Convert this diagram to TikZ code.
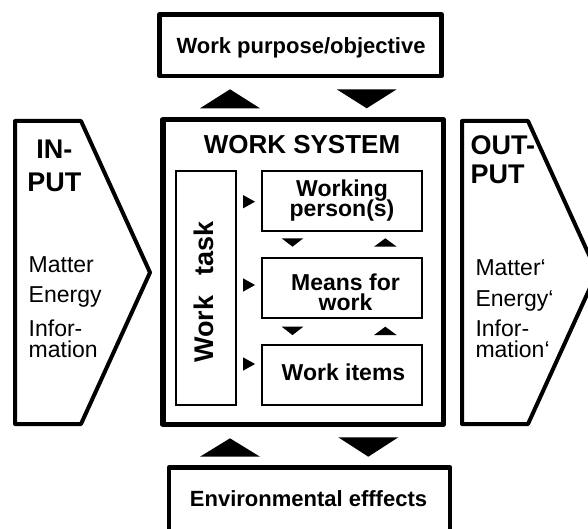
\documentclass[tikz,border=0pt]{standalone}
\usepackage{fontspec}
\setmainfont{Liberation Sans}

\tikzset{
  outerbox/.style={draw, line width=4.5pt, line join=round, inner sep=0pt},
  sysbox/.style={draw, line width=5.5pt, line join=round, inner sep=0pt},
  partbox/.style={draw, line width=2pt, inner sep=0pt},
  flow/.style={draw, line width=4pt, line join=round},
  title/.style={inner sep=0pt, font=\bfseries\fontsize{26}{30}\selectfont},
  boldtext/.style={inner sep=0pt, font=\bfseries\fontsize{22}{18}\selectfont},
  parttext/.style={inner sep=0pt, align=center,
    font=\bfseries\fontsize{23}{#1}\selectfont},
  iotext/.style={inner sep=0pt,
    font=\bfseries\fontsize{27}{#1}\selectfont},
  iolist/.style={inner sep=0pt, align=left,
    font=\fontsize{23}{21.6}\selectfont}
}

\begin{document}
% tight line pitch in the multi-line labels
\lineskiplimit=-100pt\relax
\begin{tikzpicture}[x=1pt,y=-1pt]

    \useasboundingbox (0,0) rectangle (588,529);
    \clip (0,0) rectangle (588,529);

    % Draw the purpose box (top) and the environment box (bottom)
    \node[outerbox, minimum width=282pt, minimum height=61.5pt] (purpose) at (300.5,45.25) {};
    \node[boldtext, anchor=base] (purposetext) at (301,54) {Work purpose/objective};
    \node[outerbox, minimum width=281pt, minimum height=80pt] (environment) at (309.5,507.5) {};
    \node[boldtext, anchor=base] (environmenttext) at (308.5,506) {Environmental efffects};

    % Draw the work system frame
    \node[sysbox, minimum width=280.5pt, minimum height=304.5pt] (system) at (303,272) {};
    \node[title, anchor=base] (systemtext) at (302,153.3) {WORK SYSTEM};

    % Draw the parts of the work system
    \node[partbox, minimum width=60pt, minimum height=234pt] (task) at (206,288) {};
    \node[title, font=\bfseries\fontsize{27}{30}\selectfont, rotate=90, anchor=base]
        (tasktext) at (213.5,292) {Work\hspace{0.75em}task};
    \node[partbox, minimum width=160pt, minimum height=60pt] (person) at (342,201) {};
    \node[parttext=20, anchor=north] (persontext) at (342,179.5) {Working\\person(s)};
    \node[partbox, minimum width=160pt, minimum height=60pt] (means) at (342,288) {};
    \node[parttext=19.5, anchor=north] (meanstext) at (345.5,274) {Means for\\work};
    \node[partbox, minimum width=160pt, minimum height=60pt] (items) at (342,375) {};
    \node[parttext=18, anchor=base] (itemstext) at (343.5,380) {Work items};

    % Draw the input arrow and its contents
    \draw[flow] (15,121) -- (81,121) -- (150,272.5) -- (81,424) -- (15,424) -- cycle;
    \node[iotext=32.4, align=center, anchor=north] (input) at (54.3,140) {IN-\\PUT};
    \node[iolist, anchor=north west] (inputlist) at (28.5,256.8) {Matter\\[8.4pt]Energy\\[11.8pt]Infor-\\mation};

    % Draw the output arrow and its contents
    \draw[flow] (462,121) -- (528,121) -- (597,272.5) -- (528,424) -- (462,424) -- cycle;
    \node[iotext=29, align=left, anchor=north west] (output) at (470.5,135.3) {OUT-\\PUT};
    \node[iolist, anchor=north west] (outputlist) at (475.3,259) {Matter‘\\[9.4pt]Energy‘\\[8.4pt]Infor-\\mation‘};

    % Draw the exchange with purpose and environment
    \fill (200,108.3) -- (230,89.3) -- (260,108.3) -- cycle;
    \fill (336.7,89.3) -- (396.7,89.3) -- (366.7,108.3) -- cycle;
    \fill (200,456.7) -- (230,438.3) -- (260,456.7) -- cycle;
    \fill (338.3,437.3) -- (398.3,437.3) -- (368.3,456.7) -- cycle;

    % Draw the small heads from the task to the parts
    \foreach \y in {201.7,285,364}
        \fill (243,\y-6.7) -- (255,\y) -- (243,\y+6.7) -- cycle;

    % Draw the small heads between the parts
    \foreach \y in {238.3,326.7} {
        \fill (281.7,\y) -- (303.3,\y) -- (292.5,\y+8.4) -- cycle;
        \fill (374,\y+8.4) -- (396.7,\y+8.4) -- (385.3,\y) -- cycle;
    }

\end{tikzpicture}
\end{document}
